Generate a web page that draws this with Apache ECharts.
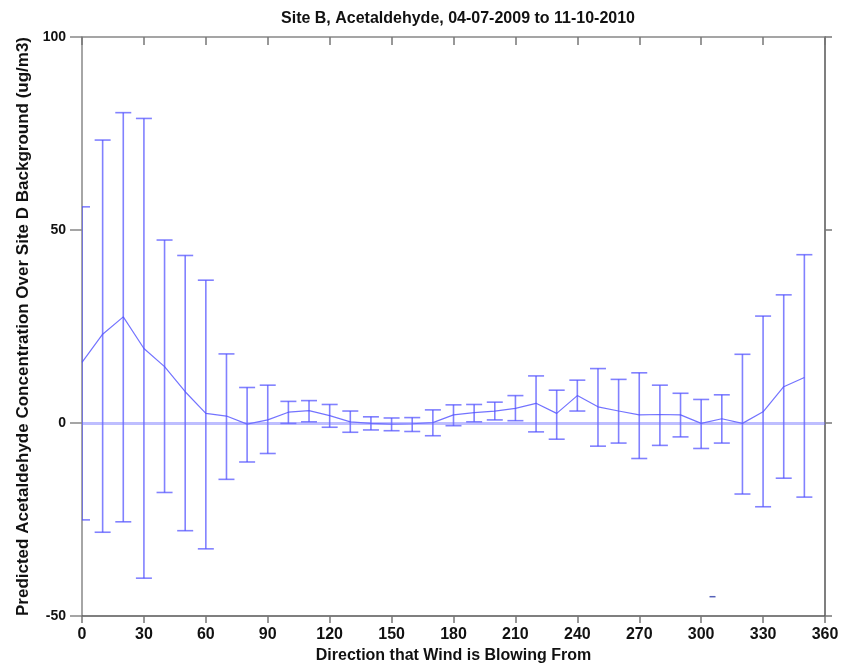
<!DOCTYPE html>
<html>
<head>
<meta charset="utf-8">
<script src="https://cdn.jsdelivr.net/npm/echarts@6/dist/echarts.min.js"></script>
<style>html,body{margin:0;padding:0;background:#fff;}#c{width:859px;height:670px;}</style>
</head>
<body>
<div id="c"></div>
<script>
var directions = [0,10,20,30,40,50,60,70,80,90,100,110,120,130,140,150,160,170,180,190,200,210,220,230,240,250,260,270,280,290,300,310,320,330,340,350];
var means = [15.7,23.0,27.5,19.3,14.6,8.1,2.5,1.8,-0.3,0.8,2.8,3.2,1.9,0.3,-0.1,-0.3,-0.2,0.1,2.1,2.7,3.1,3.8,5.1,2.5,7.1,4.2,3.1,2.1,2.2,2.1,-0.1,1.1,-0.1,2.9,9.4,11.8];
var uppers = [56.0,73.3,80.4,78.9,47.4,43.4,37.0,17.9,9.2,9.8,5.6,5.8,4.8,3.1,1.6,1.3,1.4,3.4,4.7,4.8,5.4,7.1,12.2,8.5,11.1,14.1,11.3,13.0,9.8,7.7,6.1,7.3,17.8,27.7,33.2,43.6];
var lowers = [-25.1,-28.3,-25.6,-40.2,-18.0,-27.9,-32.6,-14.6,-10.1,-7.9,-0.1,0.3,-1.1,-2.4,-1.8,-2.0,-2.2,-3.3,-0.7,0.3,0.8,0.6,-2.3,-4.2,3.1,-6.0,-5.2,-9.2,-5.8,-3.6,-6.6,-5.2,-18.4,-21.7,-14.3,-19.2];
var xTicks = [0,30,60,90,120,150,180,210,240,270,300,330,360];
var yTicks = [-50,0,50,100];
var strayMark = [[305.5,-45]];

var lineData = directions.map(function(d,i){return [d, means[i]];});
var barData = directions.map(function(d,i){return [d, lowers[i], uppers[i]];});

var chart = echarts.init(document.getElementById('c'));
var font = '"Liberation Sans", Arial, sans-serif';
var barColor = 'rgba(80,80,255,0.72)';

chart.setOption({
  animation: false,
  backgroundColor: '#fff',
  title: {
    text: 'Site B, Acetaldehyde, 04-07-2009 to 11-10-2010',
    left: 453, top: 6, textAlign: 'center',
    textStyle: {fontFamily: font, fontSize: 16, fontWeight: 'bold', color: '#111'}
  },
  grid: {left: 82, right: 34, top: 37, bottom: 54, containLabel: false},
  xAxis: [{
    type: 'value', min: 0, max: 360, interval: 30, position: 'bottom',
    name: 'Direction that Wind is Blowing From', nameLocation: 'middle', nameGap: 32,
    nameTextStyle: {fontFamily: font, fontSize: 16, fontWeight: 'bold', color: '#111'},
    axisLine: {show: true, onZero: false, lineStyle: {color: '#555', width: 1.5}},
    axisTick: {show: true, inside: false, length: 7, lineStyle: {color: '#777', width: 1.5}},
    axisLabel: {fontFamily: font, fontSize: 16, fontWeight: 'bold', color: '#111', margin: 11,
      formatter: function(v){return xTicks.indexOf(v) >= 0 ? String(v) : '';}},
    splitLine: {show: false}
  },{
    type: 'value', min: 0, max: 360, interval: 30, position: 'top',
    axisLine: {show: true, onZero: false, lineStyle: {color: '#888', width: 1.5}},
    axisTick: {show: true, inside: true, length: 8, lineStyle: {color: '#777', width: 1.5}},
    axisLabel: {show: false}, splitLine: {show: false}
  }],
  yAxis: [{
    type: 'value', min: -50, max: 100, interval: 50, position: 'left',
    name: 'Predicted Acetaldehyde Concentration Over Site D Background (ug/m3)',
    nameLocation: 'middle', nameGap: 44,
    nameTextStyle: {fontFamily: font, fontSize: 17, fontWeight: 'bold', color: '#111'},
    axisLine: {show: true, onZero: false, lineStyle: {color: '#888', width: 1.5}},
    axisTick: {show: true, inside: false, length: 12, lineStyle: {color: '#888', width: 1.5}},
    axisLabel: {fontFamily: font, fontSize: 14, fontWeight: 'bold', color: '#111', margin: 16,
      formatter: function(v){return yTicks.indexOf(v) >= 0 ? String(v) : '';}},
    splitLine: {show: false}
  },{
    type: 'value', min: -50, max: 100, interval: 50, position: 'right',
    axisLine: {show: true, onZero: false, lineStyle: {color: '#555', width: 1.5}},
    axisTick: {show: true, inside: false, length: 7, lineStyle: {color: '#777', width: 1.5}},
    axisLabel: {show: false}, splitLine: {show: false}
  }],
  series: [{
    type: 'line', data: lineData, xAxisIndex: 0, yAxisIndex: 0,
    showSymbol: false, symbol: 'none',
    lineStyle: {color: 'rgba(80,80,255,0.8)', width: 1.2},
    markLine: {
      silent: true, symbol: 'none', label: {show: false},
      lineStyle: {color: 'rgba(110,110,255,0.45)', width: 3, type: 'solid'},
      data: [{yAxis: 0}]
    },
    z: 3
  },{
    type: 'custom', data: barData, xAxisIndex: 0, yAxisIndex: 0, clip: true,
    encode: {x: 0, y: [1, 2]},
    renderItem: function(params, api){
      var x = api.value(0);
      var lo = api.coord([x, api.value(1)]);
      var hi = api.coord([x, api.value(2)]);
      var hw = 8;
      var style = {stroke: barColor, lineWidth: 1.6, fill: null};
      return {
        type: 'group',
        children: [
          {type: 'line', shape: {x1: lo[0], y1: lo[1], x2: hi[0], y2: hi[1]}, style: style},
          {type: 'line', shape: {x1: hi[0]-hw, y1: hi[1], x2: hi[0]+hw, y2: hi[1]}, style: style},
          {type: 'line', shape: {x1: lo[0]-hw, y1: lo[1], x2: lo[0]+hw, y2: lo[1]}, style: style}
        ]
      };
    },
    z: 2
  },{
    type: 'scatter', data: strayMark, xAxisIndex: 0, yAxisIndex: 0,
    symbol: 'rect', symbolSize: [6, 1.5],
    itemStyle: {color: '#2a3aa8'}, silent: true
  }]
});
</script>
</body>
</html>
